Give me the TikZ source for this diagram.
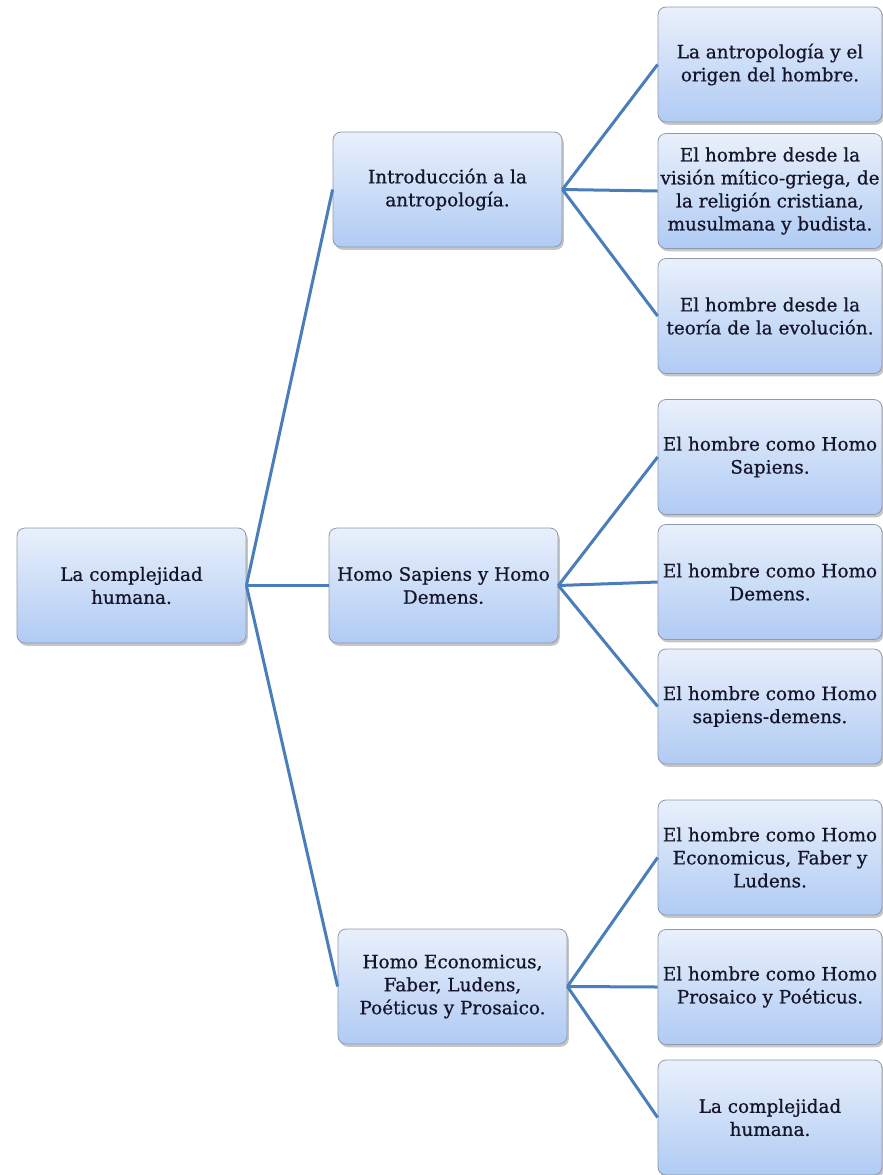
\documentclass[tikz,border=0pt]{standalone}
\usepackage{fontspec}
\setmainfont{DejaVu Serif}
\newfontfamily\boxfont[FakeBold=0.7]{DejaVu Serif}
\usetikzlibrary{shadows}
\definecolor{linkblue}{HTML}{4A7EBB}
\definecolor{boxtop}{HTML}{E9F0FB}
\definecolor{boxbot}{HTML}{B0CBF4}
\definecolor{boxline}{HTML}{8E99AC}
\definecolor{textdark}{HTML}{15152A}

\begin{document}
\begin{tikzpicture}[x=0.5pt, y=-0.5pt,
    topic/.style={draw=boxline, line width=0.4pt, rounded corners=4pt,
        top color=boxtop, bottom color=boxbot,
        minimum width=114.5pt, minimum height=57.5pt, inner sep=1pt,
        align=center, text=textdark, font=\boxfont\fontsize{9.2}{11.5}\selectfont,
        drop shadow={opacity=0.45, shadow xshift=0.9pt, shadow yshift=-1.4pt}},
    leaf/.style={topic, minimum width=112pt},
    link/.style={draw=linkblue, line width=1.5pt}]
    \useasboundingbox (0,0) rectangle (883,1175);

    % root
    \node[topic] (root) at (131.5,585.5) {La complejidad\\humana.};

    % second level
    \node[topic] (intro) at (447.5,189.5) {Introducción a la\\antropología.};
    \node[topic] (sapdem) at (443.5,585.5) {Homo Sapiens y Homo\\Demens.};
    \node[topic] (econ) at (452.5,986.5) {Homo Economicus,\\Faber, Ludens,\\Poéticus y Prosaico.};

    % leaves
    \node[leaf] (origen) at (770,64.5) {La antropología y el\\origen del hombre.};
    \node[leaf] (mitico) at (770,191) {El hombre desde la\\visión mítico-griega, de\\la religión cristiana,\\musulmana y budista.};
    \node[leaf] (evol) at (770,316) {El hombre desde la\\teoría de la evolución.};
    \node[leaf] (sapiens) at (770,457) {El hombre como Homo\\Sapiens.};
    \node[leaf] (demens) at (770,582) {El hombre como Homo\\Demens.};
    \node[leaf] (sapdemens) at (770,706.5) {El hombre como Homo\\sapiens-demens.};
    \node[leaf] (faber) at (770,857.5) {El hombre como Homo\\Economicus, Faber y\\Ludens.};
    \node[leaf] (prosaico) at (770,987) {El hombre como Homo\\Prosaico y Poéticus.};
    \node[leaf] (compleja) at (770,1117.5) {La complejidad\\humana.};

    % connectors
    \draw[link] (root.east) -- (intro.west);
    \draw[link] (root.east) -- (sapdem.west);
    \draw[link] (root.east) -- (econ.west);
    \draw[link] (intro.east) -- (origen.west);
    \draw[link] (intro.east) -- (mitico.west);
    \draw[link] (intro.east) -- (evol.west);
    \draw[link] (sapdem.east) -- (sapiens.west);
    \draw[link] (sapdem.east) -- (demens.west);
    \draw[link] (sapdem.east) -- (sapdemens.west);
    \draw[link] (econ.east) -- (faber.west);
    \draw[link] (econ.east) -- (prosaico.west);
    \draw[link] (econ.east) -- (compleja.west);
\end{tikzpicture}
\end{document}
